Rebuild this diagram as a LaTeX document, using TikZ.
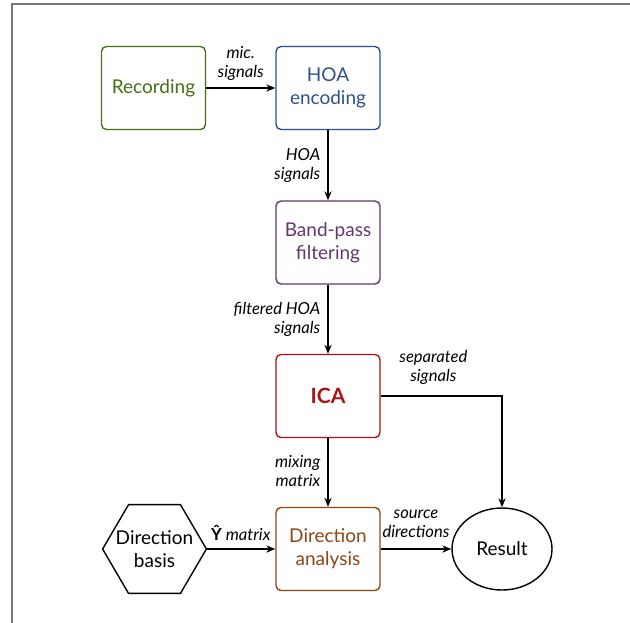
\documentclass[tikz,border=0pt]{standalone}
\usepackage{fontspec}
\setmainfont{Lato}
\usetikzlibrary{shapes.geometric,arrows.meta,calc}
\definecolor{cgreen}{RGB}{70,110,20}
\definecolor{cblue}{RGB}{45,80,140}
\definecolor{cpurple}{RGB}{100,55,105}
\definecolor{cred}{RGB}{170,20,20}
\definecolor{cbrown}{RGB}{140,70,20}
\definecolor{cframe}{RGB}{120,120,120}
\begin{document}
\begin{tikzpicture}[x=0.5pt,y=-0.5pt,
  txt/.style={font=\fontsize{9.5}{11.5}\selectfont},
  blk/.style={draw, rounded corners=2.5pt, line width=0.7pt, minimum width=52pt, minimum height=41.5pt, align=center, txt, inner sep=0pt},
  lbl/.style={font=\fontsize{8.3}{9.5}\selectfont\itshape, inner sep=2.5pt},
  arr/.style={-{Stealth[length=4.5pt,width=3.6pt]}, line width=0.7pt}]
\useasboundingbox (0,0) rectangle (630,622);
\draw[cframe, line width=0.7pt] (12,640) -- (12,4) -- (650,4);
\node[blk, draw=cgreen, text=cgreen] (rec) at (153.5,88) {Recording};
\node[blk, draw=cblue, text=cblue] (hoa) at (328,88) {HOA\\encoding};
\node[blk, draw=cpurple, text=cpurple] (bp) at (328,242.5) {Band-pass\\filtering};
\node[blk, draw=cred, text=cred, font=\fontsize{10.5}{12}\selectfont\bfseries] (ica) at (328,396) {ICA};
\node[blk, draw=cbrown, text=cbrown] (da) at (328,549) {Direction\\analysis};
\node[minimum width=51.5pt, minimum height=44pt, inner sep=0pt, align=center, txt] (db) at (154.5,549) {Direction\\basis};
\draw[line width=0.7pt] (db.west) -- ($(db.north west)!0.25!(db.north east)$) -- ($(db.north west)!0.75!(db.north east)$) -- (db.east) -- ($(db.south west)!0.75!(db.south east)$) -- ($(db.south west)!0.25!(db.south east)$) -- cycle;
\node[draw, ellipse, minimum width=50pt, minimum height=41pt, inner sep=0pt, line width=0.7pt, txt] (res) at (502,549) {Result};
\draw[arr] (rec) -- node[lbl, above, align=center, yshift=1pt] {mic.\\signals} (hoa);
\draw[arr] (hoa) -- node[lbl, left, align=right, xshift=-1pt] {HOA\\signals} (bp);
\draw[arr] (bp) -- node[lbl, left, align=right, xshift=-1pt] {filtered HOA\\signals} (ica);
\draw[arr] (ica) -- node[lbl, left, align=right, xshift=-1pt, yshift=1pt] {mixing\\matrix} (da);
\draw[arr] (ica.east) -| node[lbl, above, align=center, pos=0.25, xshift=-4pt, yshift=3pt] {separated\\signals} (res.north);
\draw[arr] (db) -- node[lbl, above, align=center, yshift=1.5pt] {{\upshape\bfseries Ŷ} matrix} (da);
\draw[arr] (da) -- node[lbl, above, align=center, yshift=3pt] {source\\directions} (res);
\end{tikzpicture}
\end{document}
